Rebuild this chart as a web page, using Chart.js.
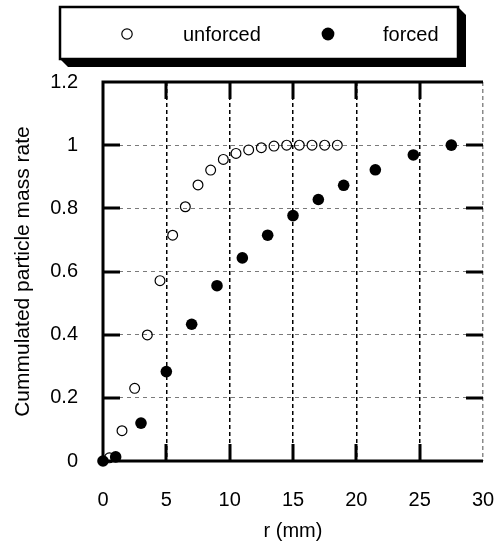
<!DOCTYPE html>
<html>
<head>
<meta charset="utf-8">
<script src="https://cdn.jsdelivr.net/npm/chart.js@4.4.1/dist/chart.umd.min.js"></script>
<style>
    html, body { margin: 0; padding: 0; background: #fff; }
    #wrap { width: 499px; height: 542px; position: relative; }
</style>
</head>
<body>
<div id="wrap"><canvas id="massChart"></canvas></div>
<script>
(function () {
    'use strict'

    // radial position (mm) and cumulated particle mass rate
    var unforcedR = [0.5, 1.5, 2.5, 3.5, 4.5, 5.5, 6.5, 7.5, 8.5, 9.5, 10.5, 11.5, 12.5, 13.5, 14.5, 15.5, 16.5, 17.5, 18.5]
    var unforcedRate = [0.01, 0.096, 0.23, 0.399, 0.571, 0.715, 0.805, 0.874, 0.921, 0.955, 0.974, 0.985, 0.992, 0.997, 1.0, 1.0, 1.0, 1.0, 1.0]
    var forcedR = [0, 1, 3, 5, 7, 9, 11, 13, 15, 17, 19, 21.5, 24.5, 27.5]
    var forcedRate = [0, 0.013, 0.12, 0.283, 0.433, 0.555, 0.643, 0.715, 0.777, 0.828, 0.873, 0.922, 0.969, 1.0]
    var seriesNames = ['unforced', 'forced']
    var xTitle = 'r (mm)'
    var yTitle = 'Cummulated particle mass rate'

    function toPoints(xs, ys) {
        return xs.map(function (x, i) { return { x: x, y: ys[i] } })
    }

    Chart.defaults.font.family = '"Liberation Sans", Arial, sans-serif'
    Chart.defaults.font.size = 20
    Chart.defaults.color = '#000'

    // solid frame on left/top/bottom plus inward tick marks on all four sides
    var frameTicks = {
        id: 'frameTicks',
        beforeDatasetsDraw: function (chart) {
            var a = chart.chartArea
            var ctx = chart.ctx
            var xs = chart.scales.x
            var ys = chart.scales.y
            var len = 17
            ctx.save()
            ctx.strokeStyle = '#000'
            ctx.lineWidth = 3
            ctx.beginPath()
            xs.ticks.forEach(function (t) {
                if (t.value <= xs.min || t.value >= xs.max) return
                var px = Math.round(xs.getPixelForValue(t.value))
                ctx.moveTo(px, a.bottom); ctx.lineTo(px, a.bottom - len)
                ctx.moveTo(px, a.top); ctx.lineTo(px, a.top + len)
            })
            ys.ticks.forEach(function (t) {
                if (t.value <= ys.min + 1e-9 || t.value >= ys.max - 1e-9) return
                var py = Math.round(ys.getPixelForValue(t.value))
                ctx.moveTo(a.left, py); ctx.lineTo(a.left + len, py)
                ctx.moveTo(a.right, py); ctx.lineTo(a.right - len, py)
            })
            ctx.stroke()
            ctx.beginPath()
            ctx.moveTo(a.left, a.top); ctx.lineTo(a.right, a.top)
            ctx.moveTo(a.left, a.top - 1.5); ctx.lineTo(a.left, a.bottom); ctx.lineTo(a.right, a.bottom)
            ctx.stroke()
            ctx.restore()
        }
    }

    // boxed legend with a solid drop shadow
    var boxLegend = {
        id: 'boxLegend',
        afterDraw: function (chart) {
            var ctx = chart.ctx
            var L = 60, T = 7, R = 458, B = 59, off = 8
            var cy = 34
            var markerX = [127, 328]
            var textX = [183, 383]
            var radii = [5.2, 6.4]
            ctx.save()
            ctx.fillStyle = '#000'
            ctx.beginPath()
            ctx.moveTo(R, T)
            ctx.lineTo(R + off, T + off)
            ctx.lineTo(R + off, B + off)
            ctx.lineTo(L + off, B + off)
            ctx.lineTo(L, B)
            ctx.closePath()
            ctx.fill()
            ctx.fillStyle = '#fff'
            ctx.fillRect(L, T, R - L, B - T)
            ctx.lineWidth = 2.5
            ctx.strokeStyle = '#000'
            ctx.strokeRect(L, T, R - L, B - T)

            ctx.font = '20px "Liberation Sans", Arial, sans-serif'
            ctx.textBaseline = 'middle'
            ctx.textAlign = 'left'
            chart.data.datasets.forEach(function (ds, i) {
                ctx.beginPath()
                ctx.arc(markerX[i], cy, radii[i], 0, Math.PI * 2)
                if (ds.backgroundColor !== 'rgba(0,0,0,0)') {
                    ctx.fillStyle = ds.backgroundColor
                    ctx.fill()
                } else {
                    ctx.lineWidth = 1.2
                    ctx.strokeStyle = ds.borderColor
                    ctx.stroke()
                }
                ctx.fillStyle = '#000'
                ctx.fillText(ds.label, textX[i], cy + 1)
            })
            ctx.restore()
        }
    }

    // keep the plot box fixed regardless of tick label overhang
    function fixedFit(w, h) {
        return function (s) {
            if (w) s.width = w
            if (h) s.height = h
            s.paddingLeft = 0
            s.paddingRight = 0
            s.paddingTop = 0
            s.paddingBottom = 0
        }
    }

    var ctx = document.getElementById('massChart')
    // eslint-disable-next-line no-unused-vars
    var massChart = new Chart(ctx, {
        type: 'scatter',
        data: {
            datasets: [{
                label: seriesNames[0],
                data: toPoints(unforcedR, unforcedRate),
                pointStyle: 'circle',
                pointRadius: 4.9,
                borderWidth: 1.2,
                borderColor: '#000',
                backgroundColor: 'rgba(0,0,0,0)',
                clip: false
            }, {
                label: seriesNames[1],
                data: toPoints(forcedR, forcedRate),
                pointStyle: 'circle',
                pointRadius: 5.8,
                borderWidth: 0,
                borderColor: '#000',
                backgroundColor: '#000',
                clip: false
            }]
        },
        options: {
            responsive: true,
            maintainAspectRatio: false,
            animation: false,
            events: [],
            layout: {
                padding: { top: 82, right: 16, left: 0, bottom: 0 }
            },
            plugins: {
                legend: { display: false },
                tooltip: { enabled: false }
            },
            scales: {
                x: {
                    type: 'linear',
                    min: 0,
                    max: 30,
                    afterFit: fixedFit(0, 81),
                    ticks: { stepSize: 5, padding: 27, font: { size: 20 } },
                    grid: {
                        drawTicks: false,
                        lineWidth: 1.5,
                        color: function (c) {
                            if (!c.tick || c.tick.value === 0) return 'rgba(0,0,0,0)'
                            return c.tick.value === 30 ? '#8a8a8a' : '#000'
                        }
                    },
                    border: { display: false, dash: [4, 3] },
                    title: {
                        display: true,
                        text: xTitle,
                        font: { size: 20, lineHeight: 1.1 },
                        padding: { top: 0, bottom: 0 }
                    }
                },
                y: {
                    type: 'linear',
                    min: 0,
                    max: 1.2,
                    afterFit: fixedFit(103, 0),
                    ticks: {
                        stepSize: 0.2,
                        padding: 25,
                        font: { size: 20 },
                        callback: function (v) { return String(Math.round(v * 10) / 10) }
                    },
                    grid: {
                        drawTicks: false,
                        lineWidth: 1,
                        color: function (c) {
                            if (!c.tick) return 'rgba(0,0,0,0)'
                            var v = Math.round(c.tick.value * 10) / 10
                            return (v === 0 || v === 1.2) ? 'rgba(0,0,0,0)' : '#7a7a7a'
                        }
                    },
                    border: { display: false, dash: [4, 4] },
                    title: {
                        display: true,
                        text: yTitle,
                        font: { size: 21 },
                        padding: { top: 11, bottom: 0 }
                    }
                }
            }
        },
        plugins: [frameTicks, boxLegend]
    })
})()
</script>
</body>
</html>
